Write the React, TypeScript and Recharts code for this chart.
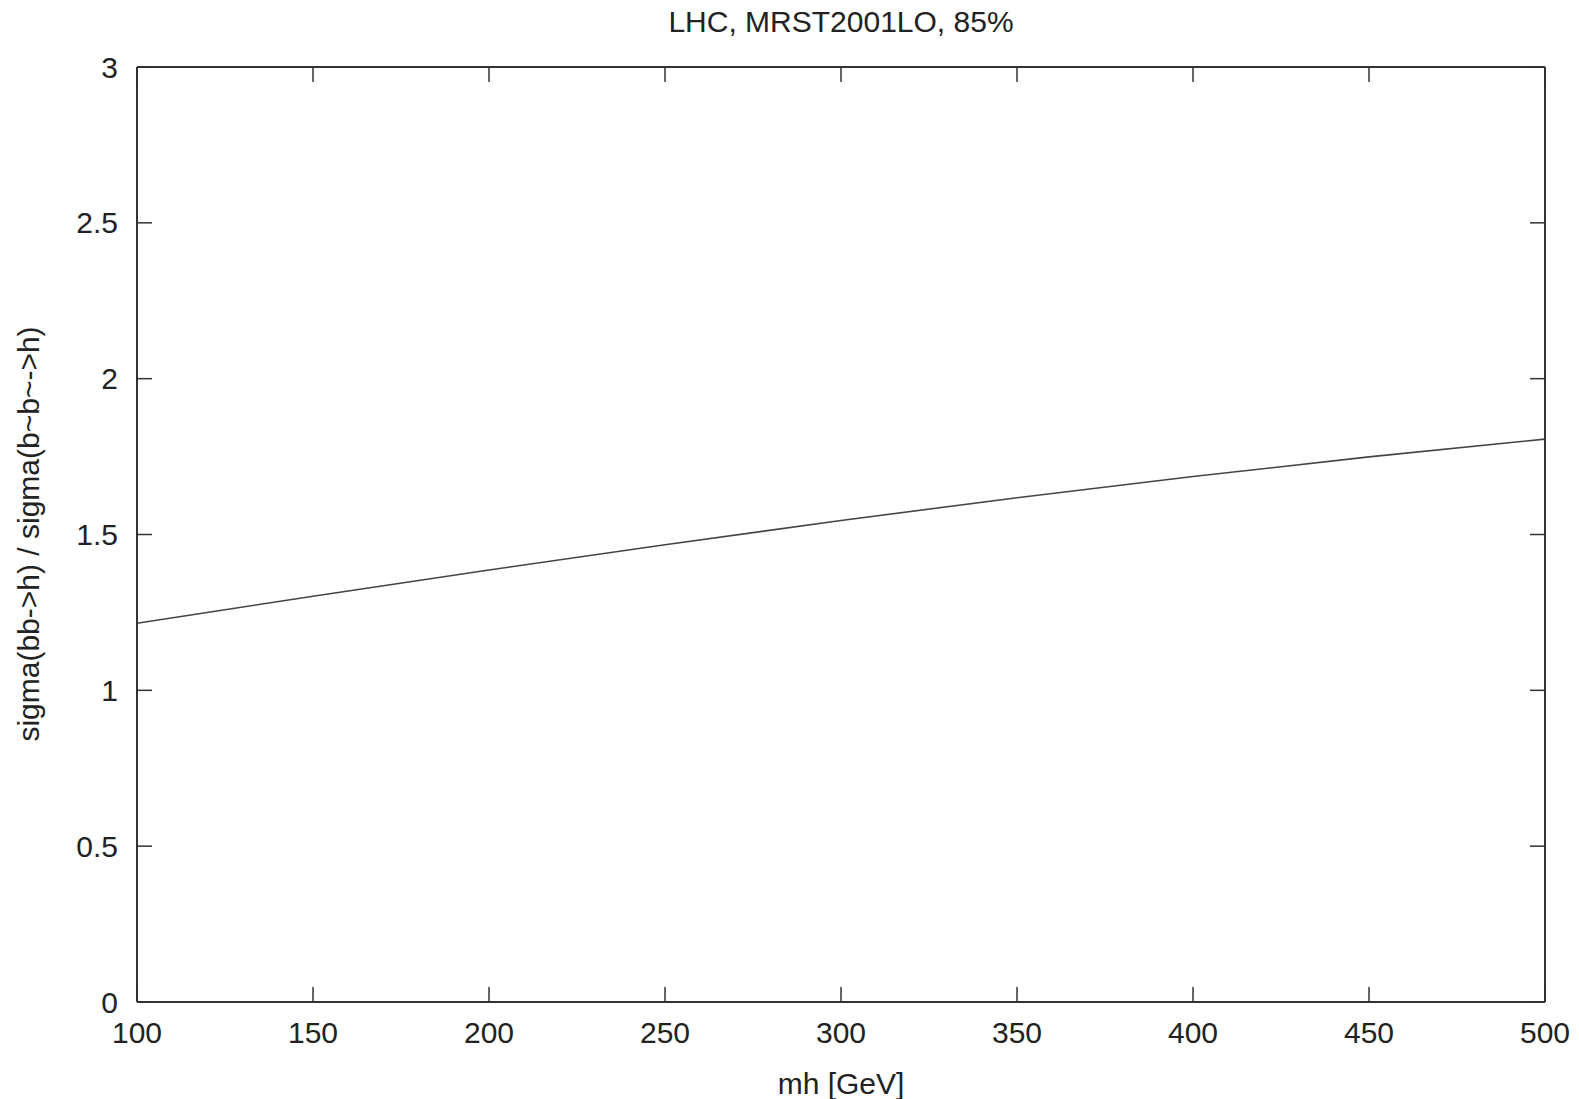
import React from "react";
import { LineChart, Line, XAxis, YAxis } from "recharts";

// values
const massGeV = [100, 150, 200, 250, 300, 350, 400, 450, 500];
const ratio = [1.215, 1.302, 1.386, 1.467, 1.545, 1.618, 1.686, 1.749, 1.806];

const xTicks = [100, 150, 200, 250, 300, 350, 400, 450, 500];
const yTicks = [0, 0.5, 1, 1.5, 2, 2.5, 3];

const title = "LHC, MRST2001LO, 85%";
const xLabel = "mh [GeV]";
const yLabel = "sigma(bb->h) / sigma(b~b~->h)";

const chartData = massGeV.map((m, i) => ({ mh: m, r: ratio[i] }));

const W = 1579;
const H = 1099;
// plot box is 137..1545 x 67..1002; each axis takes 1px of it
const M = { top: 66, left: 136, right: 33, bottom: 96 };
const FONT = "'Liberation Sans', Arial, sans-serif";
const INK = "#222";
const FRAME = "#333";
const TICK = 15;

function BottomTick(props: any) {
  const { x, y, payload } = props;
  return (
    <g>
      <line x1={x} y1={y} x2={x} y2={y - TICK} stroke={FRAME} strokeWidth={1.5} />
      <text x={x} y={y + 41} textAnchor="middle" fontSize={30} fontFamily={FONT} fill={INK}>
        {payload.value}
      </text>
    </g>
  );
}

function TopTick(props: any) {
  const { x, y } = props;
  return <line x1={x} y1={y} x2={x} y2={y + TICK} stroke={FRAME} strokeWidth={1.5} />;
}

function LeftTick(props: any) {
  const { x, y, payload } = props;
  return (
    <g>
      <line x1={x} y1={y} x2={x + TICK} y2={y} stroke={FRAME} strokeWidth={1.5} />
      <text x={x - 19} y={y + 10.5} textAnchor="end" fontSize={30} fontFamily={FONT} fill={INK}>
        {String(payload.value)}
      </text>
    </g>
  );
}

function RightTick(props: any) {
  const { x, y } = props;
  return <line x1={x} y1={y} x2={x - TICK} y2={y} stroke={FRAME} strokeWidth={1.5} />;
}

export default function App() {
  const cx = 841;
  const cy = 534;
  return (
    <div style={{ position: "absolute", left: 0, top: 0, width: W, height: H, background: "#fff" }}>
      <LineChart width={W} height={H} data={chartData} margin={M}>
        <XAxis
          xAxisId="b"
          dataKey="mh"
          type="number"
          domain={[100, 500]}
          ticks={xTicks}
          height={1}
          tickSize={0}
          tickMargin={0}
          tickLine={false}
          tick={BottomTick}
          interval={0}
          axisLine={{ stroke: FRAME, strokeWidth: 2 }}
        />
        <XAxis
          xAxisId="t"
          orientation="top"
          dataKey="mh"
          type="number"
          domain={[100, 500]}
          ticks={xTicks}
          height={1}
          tickSize={0}
          tickMargin={0}
          tickLine={false}
          tick={TopTick}
          interval={0}
          axisLine={{ stroke: FRAME, strokeWidth: 2 }}
        />
        <YAxis
          yAxisId="l"
          type="number"
          domain={[0, 3]}
          ticks={yTicks}
          width={1}
          tickSize={0}
          tickMargin={0}
          tickLine={false}
          tick={LeftTick}
          interval={0}
          axisLine={{ stroke: FRAME, strokeWidth: 2 }}
        />
        <YAxis
          yAxisId="r"
          orientation="right"
          type="number"
          domain={[0, 3]}
          ticks={yTicks}
          width={1}
          tickSize={0}
          tickMargin={0}
          tickLine={false}
          tick={RightTick}
          interval={0}
          axisLine={{ stroke: FRAME, strokeWidth: 2 }}
        />
        <Line
          xAxisId="b"
          yAxisId="l"
          type="linear"
          dataKey="r"
          stroke="#444"
          strokeWidth={1.6}
          dot={false}
          isAnimationActive={false}
        />
        <Line
          xAxisId="t"
          yAxisId="r"
          type="linear"
          dataKey="r"
          stroke="none"
          dot={false}
          legendType="none"
          isAnimationActive={false}
        />
        <text x={cx} y={32} textAnchor="middle" fontSize={30} fontFamily={FONT} fill={INK}>
          {title}
        </text>
        <text x={cx} y={1094} textAnchor="middle" fontSize={30} fontFamily={FONT} fill={INK}>
          {xLabel}
        </text>
        <text
          x={39}
          y={cy}
          textAnchor="middle"
          fontSize={30}
          fontFamily={FONT}
          fill={INK}
          transform={`rotate(-90, 39, ${cy})`}
        >
          {yLabel}
        </text>
      </LineChart>
    </div>
  );
}
